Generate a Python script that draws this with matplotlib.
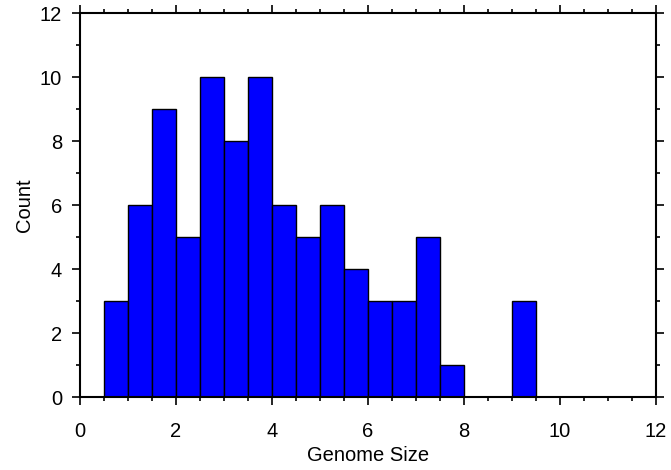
import matplotlib.pyplot as plt
from matplotlib.ticker import MultipleLocator

plt.rcParams['font.family'] = ['Liberation Sans', 'DejaVu Sans']

# histogram bins (width 0.5) and counts
bin_edges = [0.5, 1.0, 1.5, 2.0, 2.5, 3.0, 3.5, 4.0, 4.5, 5.0,
             5.5, 6.0, 6.5, 7.0, 7.5, 8.0, 8.5, 9.0, 9.5]
counts = [3, 6, 9, 5, 10, 8, 10, 6, 5, 6, 4, 3, 3, 5, 1, 0, 0, 3]

fig = plt.figure(figsize=(6.71, 4.70), dpi=100)
ax = fig.add_axes([0.1192, 0.1553, 0.8584, 0.817])

lefts = bin_edges[:-1]
widths = [b - a for a, b in zip(bin_edges[:-1], bin_edges[1:])]
ax.bar(lefts, counts, width=widths, align='edge',
       color='#0000ff', edgecolor='black', linewidth=1.0, zorder=2)

ax.set_xlim(0, 12)
ax.set_ylim(0, 12)
ax.xaxis.set_major_locator(MultipleLocator(2))
ax.xaxis.set_minor_locator(MultipleLocator(0.5))
ax.yaxis.set_major_locator(MultipleLocator(2))
ax.yaxis.set_minor_locator(MultipleLocator(1))

for s in ax.spines.values():
    s.set_linewidth(1.5)

ax.tick_params(which='both', direction='out', top=True, right=True,
               labeltop=False, labelright=False, width=1.2, labelsize=14.5)
ax.tick_params(which='major', length=5.8)
ax.tick_params(which='minor', length=2.9)
ax.tick_params(axis='x', which='major', pad=12)
ax.tick_params(axis='y', which='major', pad=7)

ax.set_xlabel('Genome Size', fontsize=14.5, labelpad=4)
ax.set_ylabel('Count', fontsize=14.5, labelpad=4)

fig.savefig('out.png', dpi=100)
